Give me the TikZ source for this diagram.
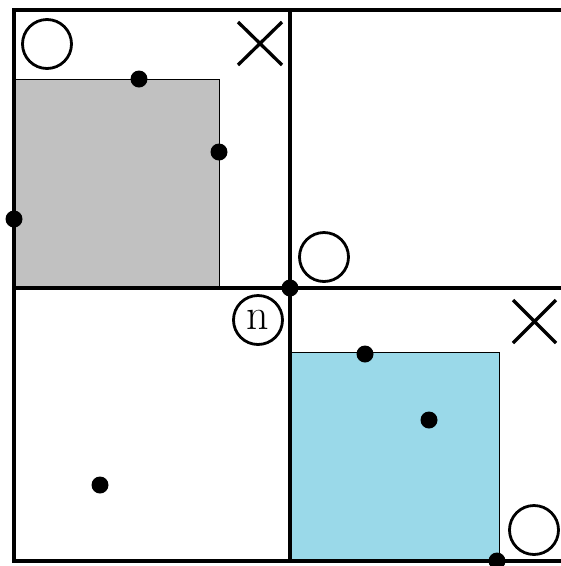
\documentclass[tikz,border=0pt]{standalone}
\begin{document}
\begin{tikzpicture}[x=1pt,y=-1pt,
  grid/.style={line width=3.3pt},
  region/.style={draw=black,line width=0.8pt},
  dot/.style={circle,fill=black,inner sep=0pt,minimum size=17pt},
  ring/.style={circle,draw=black,line width=2.8pt,inner sep=0pt,minimum size=49pt},
  cross/.style={line width=3.3pt}]
\useasboundingbox (0,0) rectangle (561,566);
% shaded regions
\fill[fill={rgb,255:red,193;green,193;blue,193}] (14,79) rectangle (219,288);
\draw[region] (14,79) -- (219,79) -- (219,288);
\fill[fill={rgb,255:red,154;green,217;blue,233}] (290,352) rectangle (499,561);
\draw[region] (290,352) -- (499,352) -- (499,561);
% grid
\draw[grid] (561,10) -- (14,10) -- (14,561) -- (561,561);
\draw[grid] (290,10) -- (290,561);
\draw[grid] (14,288) -- (561,288);
% rings
\node[ring] (c1) at (47,44) {};
\node[ring] (c2) at (324,257) {};
\node[ring] (c3) at (534,530) {};
\node[ring] (c4) at (258,320) {\fontsize{44}{44}\selectfont n};
% crosses
\draw[cross] (238,22) -- (282,65) (238,65) -- (282,22);
\draw[cross] (513,300) -- (556,343) (513,343) -- (556,300);
% dots
\node[dot] (d1) at (139,79) {};
\node[dot] (d2) at (219,152) {};
\node[dot] (d3) at (14,219) {};
\node[dot] (d4) at (290,288) {};
\node[dot] (d5) at (365,354) {};
\node[dot] (d6) at (429,420) {};
\node[dot] (d7) at (100,485) {};
\node[dot] (d8) at (497,561) {};
\end{tikzpicture}
\end{document}
